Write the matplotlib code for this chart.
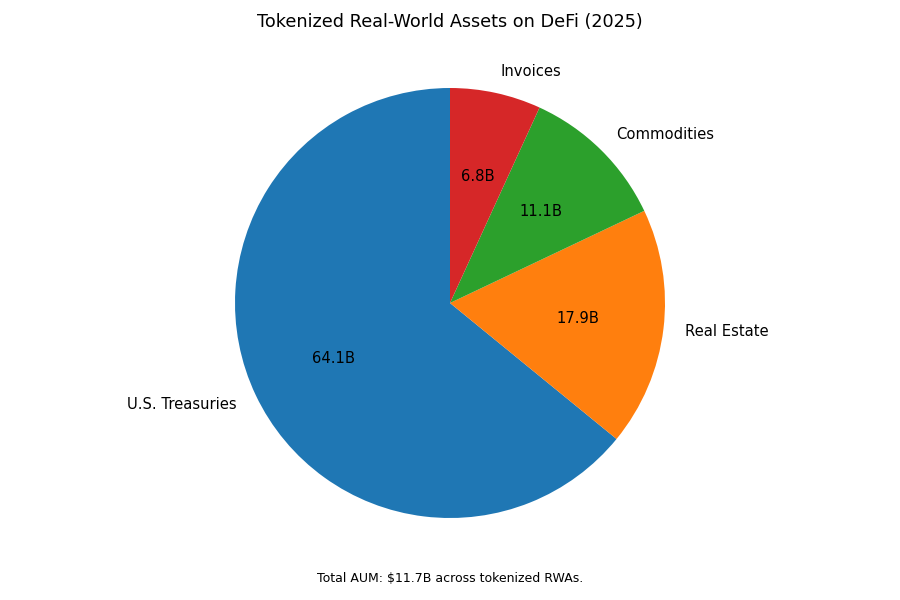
import matplotlib
matplotlib.use("Agg")
from matplotlib import pyplot as plt

# data (billions USD)
categories = ["U.S. Treasuries", "Real Estate", "Commodities", "Invoices"]
aum = [7.5, 2.1, 1.3, 0.8]
colors = ["#1f77b4", "#ff7f0e", "#2ca02c", "#d62728"]
total = 11.7

fig = plt.figure(figsize=(9, 6), dpi=100)
ax = fig.add_axes([0, 0, 1, 1])
ax.pie(aum, labels=categories, colors=colors, autopct="%1.1fB",
       startangle=90, textprops={"fontsize": 10.6})
# radius ~215 px, centre at (450, 303)
r = 215.0
ax.set_xlim(-450 / r, 450 / r)
ax.set_ylim(-297 / r, 303 / r)
ax.axis("off")

fig.text(0.5, 1 - 22 / 600, "Tokenized Real-World Assets on DeFi (2025)",
         ha="center", va="center", fontsize=12.7)
fig.text(0.5, 1 - 578 / 600, f"Total AUM: ${total}B across tokenized RWAs.",
         ha="center", va="center", fontsize=9)
plt.savefig("out.png")
